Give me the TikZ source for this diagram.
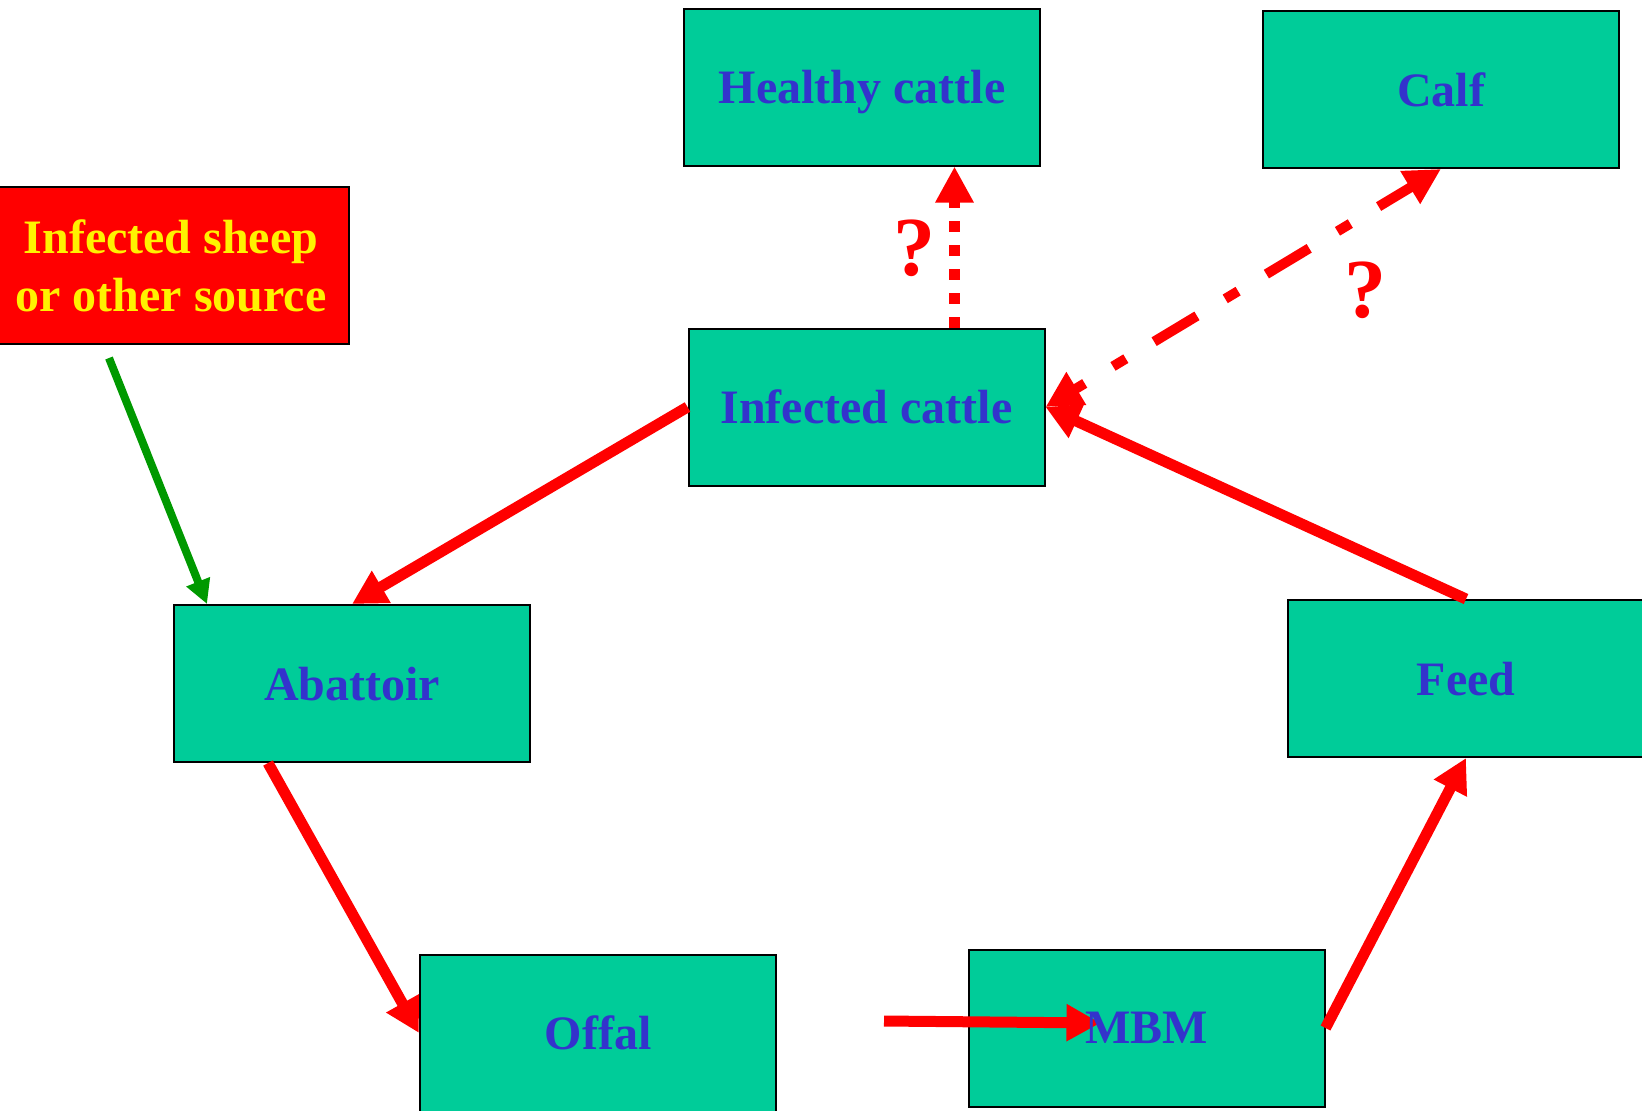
\documentclass[tikz,border=0pt]{standalone}
\usepackage{fontspec}
\setmainfont{Liberation Serif}
\usetikzlibrary{arrows.meta}
\definecolor{boxfill}{HTML}{00CC99}
\definecolor{boxtext}{HTML}{3333CC}
\definecolor{srcgreen}{HTML}{009900}
\begin{document}
\begin{tikzpicture}[x=0.5pt,y=-0.5pt,
  stagebox/.style={draw=black, line width=1pt, fill=boxfill, minimum width=178pt,
    minimum height=78.5pt, inner sep=0pt, text=boxtext, text depth=0pt,
    font=\fontsize{24}{29}\selectfont\bfseries},
  sourcebox/.style={stagebox, fill=red, text=yellow, align=center, text depth=},
  boxlabel/.style={inner sep=0pt, text=boxtext, font=\fontsize{24}{29}\selectfont\bfseries},
  flow/.style={draw=red, line width=5.5pt, -{Triangle[length=17pt,width=17.5pt]}},
  maybeflow/.style={draw=red, line width=5.5pt},
  qmark/.style={inner sep=0pt, text=red, font=\fontsize{42}{42}\selectfont\bfseries}
]
% page frame
\clip (0,0) rectangle (1642,1110);
\fill[white] (0,0) rectangle (1642,1110);

% stages of the cycle
\node[stagebox] (hc) at (862,87) {Healthy cattle};
\node[stagebox] (calf) at (1441,89.5) {Calf};
\node[sourcebox] (sheep) at (171,265.5) {Infected sheep\\or other source};
\node[stagebox] (ic) at (866.5,407) {Infected cattle};
\node[stagebox] (ab) at (352,683.5) {Abattoir};
\node[stagebox] (feed) at (1466,678.5) {Feed};
\node[stagebox] (offal) at (598,1033) {Offal};
\node[stagebox] (mbm) at (1146.5,1028) {};

% external source
\coordinate (sheepout) at ([xshift=-31pt,yshift=-6.5pt]sheep.south);
\draw[srcgreen, line width=4pt, -{Triangle[length=12pt,width=12pt]}]
  (sheepout) -- ([xshift=17pt]ab.north west);

% main cycle
\draw[flow] (ic.west) -- (ab.north);
\draw[flow] ([xshift=-42pt]ab.south) -- (offal.west);
\coordinate (offalout) at ([xshift=53.5pt,yshift=6pt]offal.east);
\draw[flow] (offalout) -- ([xshift=-23pt,yshift=2.5pt]mbm.center);
\draw[flow] (mbm.east) -- (feed.south);
\draw[flow] (feed.north) -- (ic.east);

\node[boxlabel] (mbmlabel) at (mbm.center) {MBM};

% uncertain routes
\draw[maybeflow, line width=5.75pt, dash pattern=on 5.5pt off 6.5pt,
  -{Triangle[length=18pt,width=18pt]}]
  ([xshift=44pt]ic.north) -- ([xshift=44pt]ic.north |- hc.south);
\draw[maybeflow, line width=5pt,
  dash pattern=on 25pt off 16.5pt on 7.5pt off 16.5pt, dash phase=19pt,
  {Triangle[length=18pt,width=18pt]}-{Triangle[length=18pt,width=18pt]}]
  (ic.east) -- (calf.south);

\node[qmark] (q1) at (914,248) {?};
\node[qmark] (q2) at (1365,290) {?};
\end{tikzpicture}
\end{document}
